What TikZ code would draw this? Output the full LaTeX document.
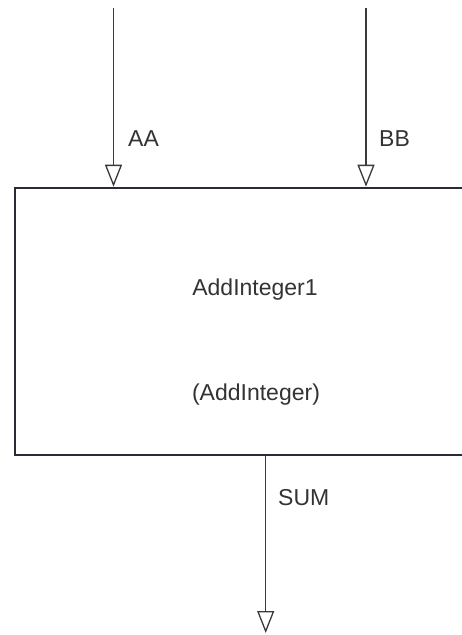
\documentclass[tikz,border=0pt]{standalone}
\usepackage{fontspec}
\setmainfont{Liberation Sans}
\usetikzlibrary{arrows.meta}
\definecolor{linec}{HTML}{3A3A3A}
\definecolor{boxc}{HTML}{2A2A38}
\definecolor{textc}{HTML}{333333}
\begin{document}
\begin{tikzpicture}[x=1pt,y=-1pt,
  conn/.style={draw=linec, line width=1.3pt, -{Triangle[open,length=22pt,width=17pt,line width=1.3pt]}},
  blk/.style={draw=boxc, line width=2.6pt, fill=white, minimum width=462pt, minimum height=267pt, inner sep=0pt},
  lbl/.style={text=textc, inner sep=0pt, font=\fontsize{23}{27}\selectfont}]
\useasboundingbox (0,0) rectangle (462,635);
\clip (0,0) rectangle (462,635);
\fill[white] (0,0) rectangle (462,635);
\node[blk] (box) at (246,321.5) {};
\coordinate (a0) at (113.5,8);
\coordinate (b0) at (366,8);
\coordinate (s0) at (265.7,455);
\coordinate (s1) at (265.7,633);
\draw[conn] (a0) -- (a0 |- box.north);
\draw[conn] (b0) -- (b0 |- box.north);
\draw[conn] (s0 |- box.south) -- (s1);
\node[lbl, anchor=base west] (aa) at (128,146) {AA};
\node[lbl, anchor=base west] (bb) at (379,146) {BB};
\node[lbl, anchor=base west] (sum) at (278,505) {SUM};
\node[lbl, anchor=base] (name) at (255,295) {AddInteger1};
\node[lbl, anchor=base] (type) at (256,400) {(AddInteger)};
\end{tikzpicture}
\end{document}
